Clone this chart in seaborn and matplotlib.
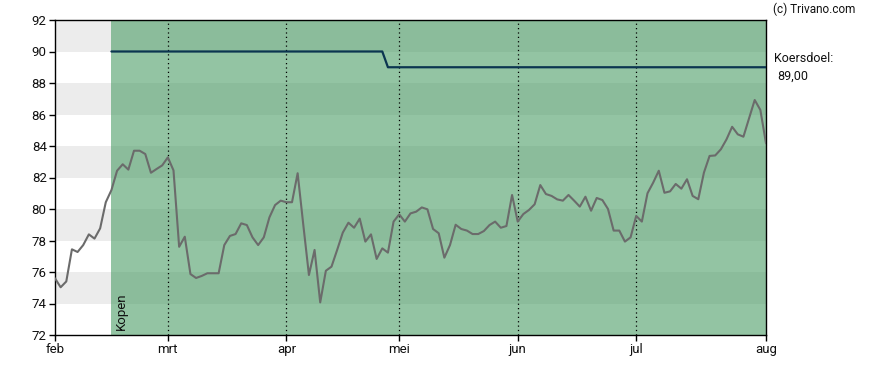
import numpy as np
import pandas as pd
import matplotlib
matplotlib.use("Agg")
import matplotlib.pyplot as plt
import seaborn as sns

# ---- data ----
price = [75.6, 75.03, 75.4, 77.44, 77.27, 77.71, 78.39, 78.12, 78.77, 80.43,
         81.2, 82.43, 82.84, 82.5, 83.7, 83.7, 83.49, 82.3, 82.54, 82.77,
         83.28, 82.45, 77.6, 78.24, 75.87, 75.62, 75.75, 75.92, 75.92, 75.92,
         77.71, 78.29, 78.41, 79.09, 78.98, 78.2, 77.71, 78.2, 79.47, 80.25,
         80.53, 80.43, 80.43, 82.27, 79.0, 75.81, 77.4, 74.07, 76.08, 76.34,
         77.4, 78.5, 79.13, 78.81, 79.39, 77.93, 78.39, 76.83, 77.5, 77.23,
         79.2, 79.66, 79.2, 79.72, 79.83, 80.1, 79.98, 78.73, 78.46, 76.91,
         77.71, 79.0, 78.73, 78.63, 78.41, 78.41, 78.6, 78.98, 79.2, 78.81,
         78.92, 80.89, 79.2, 79.68, 79.94, 80.3, 81.52, 80.95, 80.83, 80.61,
         80.53, 80.89, 80.53, 80.15, 80.78, 79.89, 80.7, 80.57, 80.0, 78.63,
         78.63, 77.93, 78.2, 79.56, 79.2, 81.0, 81.67, 82.43, 81.03, 81.12,
         81.59, 81.29, 81.89, 80.83, 80.62, 82.31, 83.37, 83.4, 83.79, 84.42,
         85.22, 84.74, 84.59, 85.76, 86.92, 86.29, 84.17]

target_days = [10, 58, 59, 126]
target_vals = [90.0, 90.0, 89.0, 89.0]

month_labels = ["feb", "mrt", "apr", "mei", "jun", "jul", "aug"]
month_days = [0, 20, 41, 61, 82, 103, 126]

advice_start = 10
advice_label = "Kopen"
target_label = "Koersdoel:"
target_text = "89,00"
credit = "(c) Trivano.com"

y_ticks = [72, 74, 76, 78, 80, 82, 84, 86, 88, 90, 92]

# ---- plot ----
sns.set_theme(style="white")
plt.rcParams['font.family'] = ['Roboto', 'DejaVu Sans']

fig = plt.figure(figsize=(8.88, 3.70), dpi=100)
ax = fig.add_axes([55/888, 1-335/370, (766-55)/888, (335-20)/370])

x_min, x_max = 0, len(price) - 1
ax.set_xlim(x_min, x_max)
ax.set_ylim(72, 92)

# background bands
split = (advice_start - x_min) / (x_max - x_min)
for lo in range(72, 92, 2):
    dark = ((lo - 74) % 4 == 0)
    ax.axhspan(lo, lo + 2, xmin=0, xmax=split,
               color="#ececec" if dark else "white", lw=0, zorder=0)
    ax.axhspan(lo, lo + 2, xmin=split, xmax=1,
               color="#8bbc9b" if dark else "#93c4a3", lw=0, zorder=0)

# month grid lines
for d in month_days[1:-1]:
    ax.axvline(d, color="black", lw=0.9, ls=(0, (1, 2.5)), zorder=1)

df = pd.DataFrame({"day": np.arange(len(price)), "price": price})
sns.lineplot(data=df, x="day", y="price", ax=ax, color="#6b6b6b", lw=1.5, zorder=3)

tdf = pd.DataFrame({"day": target_days, "target": target_vals})
sns.lineplot(data=tdf, x="day", y="target", ax=ax, color="#0b3550", lw=1.6, zorder=4)

ax.text(advice_start + 0.6, 72.3, advice_label, rotation=90, fontsize=9.5,
        color="#111111", ha="left", va="bottom", zorder=5)

ax.set_xticks(month_days)
ax.set_xticklabels(month_labels)
ax.set_yticks(y_ticks)
ax.set_yticklabels([str(v) for v in y_ticks])
ax.set_xlabel("")
ax.set_ylabel("")
ax.tick_params(axis="both", which="both", direction="out", length=4, width=1,
               color="black", labelsize=9.5, labelcolor="#111111", pad=2,
               bottom=True, left=True)

for s in ax.spines.values():
    s.set_visible(True)
    s.set_color("black")
    s.set_linewidth(1.0)

fig.text(773/888, 1-9/370, credit, fontsize=8.5, color="#111111", ha="left", va="center")
fig.text(774/888, 1-59/370, target_label, fontsize=9, color="#111111", ha="left", va="center")
fig.text(777/888, 1-76/370, target_text, fontsize=9, color="#111111", ha="left", va="center")

fig.savefig("out.png", dpi=100)
